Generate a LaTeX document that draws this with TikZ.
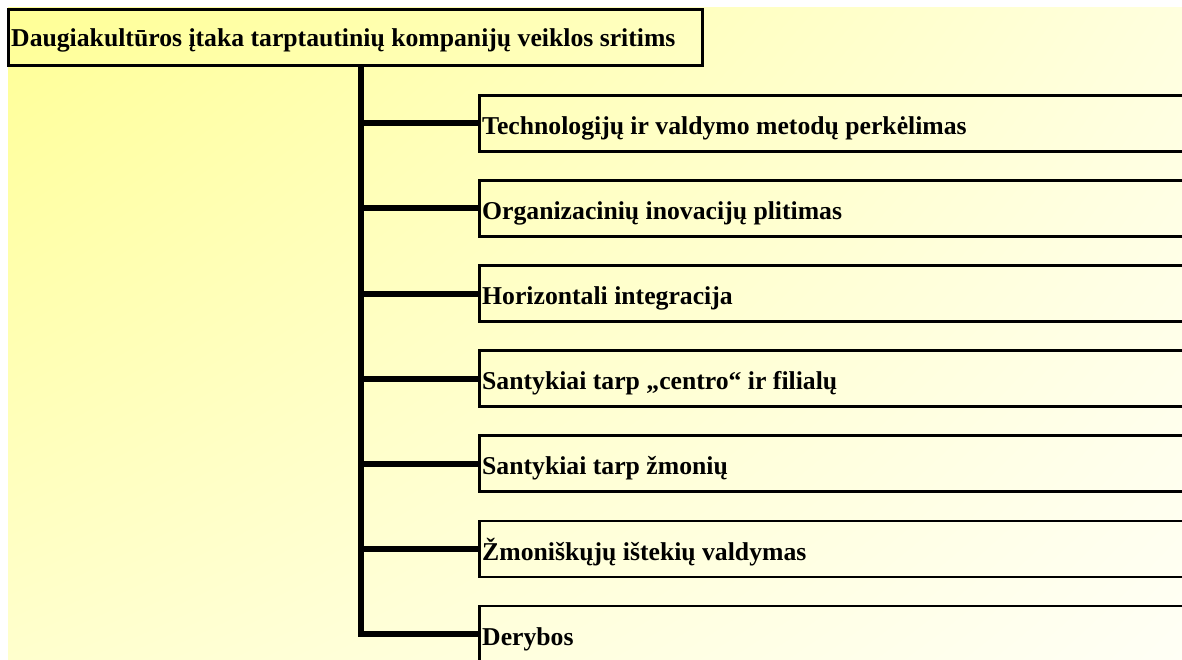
\documentclass[tikz,border=0pt]{standalone}
\usepackage{fontspec}
\setmainfont{Liberation Serif}
\usetikzlibrary{shadings}
\begin{document}
\begin{tikzpicture}[x=1pt,y=-1pt,
  framebox/.style={draw=black, line width=2.7pt, rectangle, inner sep=0pt,
    minimum width=#1, minimum height=56pt, anchor=north west},
  link/.style={draw=black, line width=6pt, line join=miter},
  lbl/.style={anchor=base west, inner sep=0pt,
    font=\fontsize{25.7}{30}\selectfont\bfseries}]
\definecolor{bgUL}{RGB}{255,255,150}
\definecolor{bgUR}{RGB}{255,255,222}
\definecolor{bgLL}{RGB}{255,255,205}
\definecolor{bgLR}{RGB}{255,255,245}
\useasboundingbox (0,0) rectangle (1182,660);
\fill[white] (0,0) rectangle (1182,660);
% soft yellow backdrop
\shade[upper left=bgUL, upper right=bgUR, lower left=bgLL, lower right=bgLR]
  (8,8) rectangle (1182,660);

% heading box
\node[framebox=694pt] (title) at (7,8.5) {};
\node[lbl] (titletxt) at (11,46.6)
  {Daugiakultūros įtaka tarptautinių kompanijų veiklos sritims};

% branch boxes
\foreach \i/\txt in {1/{Technologijų ir valdymo metodų perkėlimas},
                     2/{Organizacinių inovacijų plitimas},
                     3/{Horizontali integracija},
                     4/{Santykiai tarp „centro“ ir filialų},
                     5/{Santykiai tarp žmonių},
                     6/{Žmoniškųjų ištekių valdymas},
                     7/{Derybos}} {
  \pgfmathsetmacro{\ytop}{94+(\i-1)*85.1}
  \node[framebox=704pt] (b\i) at (478.3,\ytop) {};
  \node[lbl] (t\i) at (482,\ytop+40.5) {\txt};
}

% tree connectors
\coordinate (trunk) at (360.7,65);
\draw[link] (trunk) |- (b7.west);
\foreach \i in {1,...,6} {
  \draw[link] (b\i.west -| trunk) -- (b\i.west);
}
\end{tikzpicture}
\end{document}
